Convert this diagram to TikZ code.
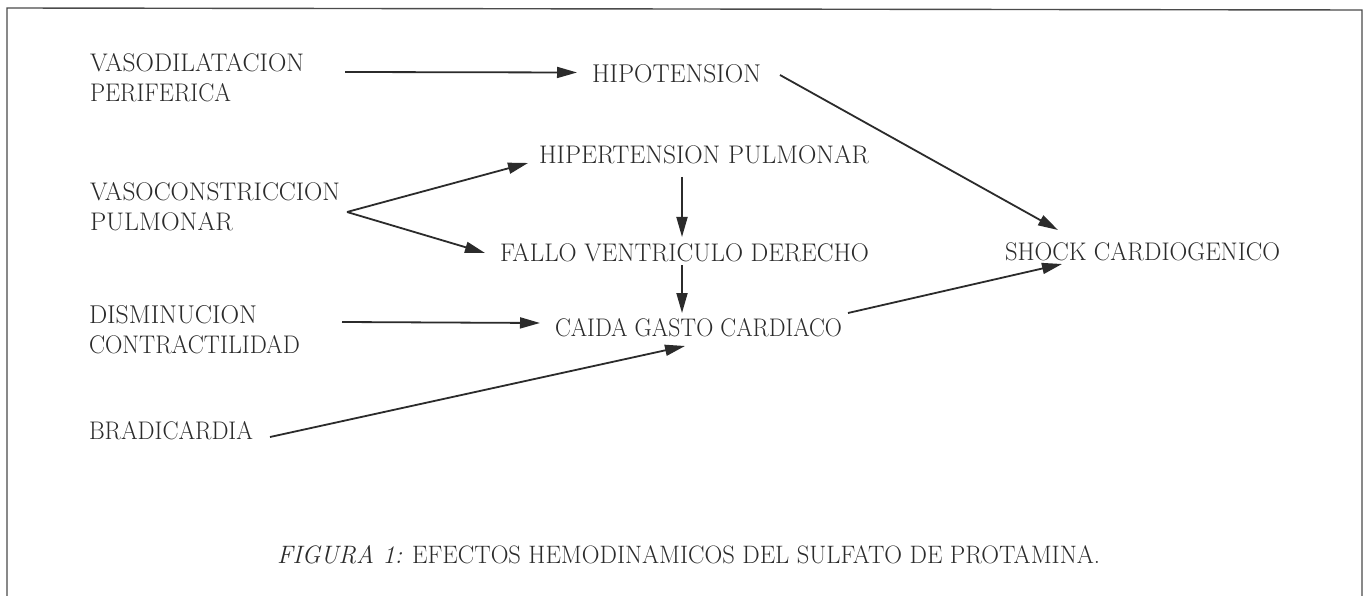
\documentclass[tikz,border=0pt]{standalone}
\usepackage{graphicx}
\usetikzlibrary{arrows.meta,calc}
\definecolor{ink}{HTML}{2B2B2B}
\newcommand\lbl[2]{\resizebox{#1pt}{18pt}{#2}}
\begin{document}
\begin{tikzpicture}[x=1pt,y=-1pt,
  lab/.style={inner sep=0pt,outer sep=0pt,text=ink,font=\fontsize{25}{30}\selectfont},
  arr/.style={draw=ink,line width=1.8pt,-{Triangle[length=20pt,width=11pt]}},
  frame/.style={draw=ink!85,line width=1.4pt}]
\useasboundingbox (0,0) rectangle (1368,596);
\fill[white] (0,0) rectangle (1368,596);
% frame (no bottom edge)
\draw[frame] (7,596) -- (7,8) -- (1362,10) -- (1362,596);
% left column
\node[lab,align=left,anchor=north west] (vd) at (90,53.5) {\lbl{214}{VASODILATACION}\\\lbl{141}{PERIFERICA}};
\node[lab,align=left,anchor=north west] (vc) at (90,182) {\lbl{250}{VASOCONSTRICCION}\\\lbl{143}{PULMONAR}};
\node[lab,align=left,anchor=north west] (dc) at (89,305) {\lbl{168}{DISMINUCION}\\\lbl{211}{CONTRACTILIDAD}};
\node[lab,anchor=base west] (br) at (89,439) {\lbl{164}{BRADICARDIA}};
% middle column
\node[lab,anchor=base west] (hipo) at (592,83) {\lbl{169}{HIPOTENSION}};
\node[lab,anchor=base west] (hp) at (539,164) {\lbl{330}{HIPERTENSION PULMONAR}};
\node[lab,anchor=base west] (fv) at (500,261.5) {\lbl{369}{FALLO VENTRICULO DERECHO}};
\node[lab,anchor=base west] (cg) at (555,336.5) {\lbl{287}{CAIDA GASTO CARDIACO}};
% right
\node[lab,anchor=base west] (sc) at (1005,261) {\lbl{275}{SHOCK CARDIOGENICO}};
% caption
\node[lab,anchor=base west] (cap) at (277,563) {\lbl{823}{\textit{FIGURA 1:} EFECTOS HEMODINAMICOS DEL SULFATO DE PROTAMINA.}};
% connectors
\draw[arr] ($(vd.north east)+(41,18.5)$) -- ($(hipo.base west)+(-15,-10.5)$);
\draw[arr] ($(hipo.base east)+(19,-8)$) -- ($(sc.base west)+(53,-31)$);
\draw[arr] ($(vc.north east)+(7,30)$) -- ($(hp.base west)+(-11,-1)$);
\draw[arr] ($(vc.north east)+(7,30)$) -- ($(fv.base west)+(-15,-8.5)$);
\draw[arr] ($(hp.base west)+(143,13)$) -- ($(fv.base west)+(182,-24.5)$);
\draw[arr] ($(fv.base west)+(182,3.5)$) -- ($(cg.base west)+(127,-23.5)$);
\draw[arr] ($(dc.north east)+(42,17)$) -- ($(cg.base west)+(-15,-13.5)$);
\draw[arr] ($(br.base east)+(17,-2)$) -- ($(cg.base west)+(130,9.5)$);
\draw[arr] ($(cg.base east)+(6,-23.5)$) -- ($(sc.base west)+(57,3)$);
\end{tikzpicture}
\end{document}
